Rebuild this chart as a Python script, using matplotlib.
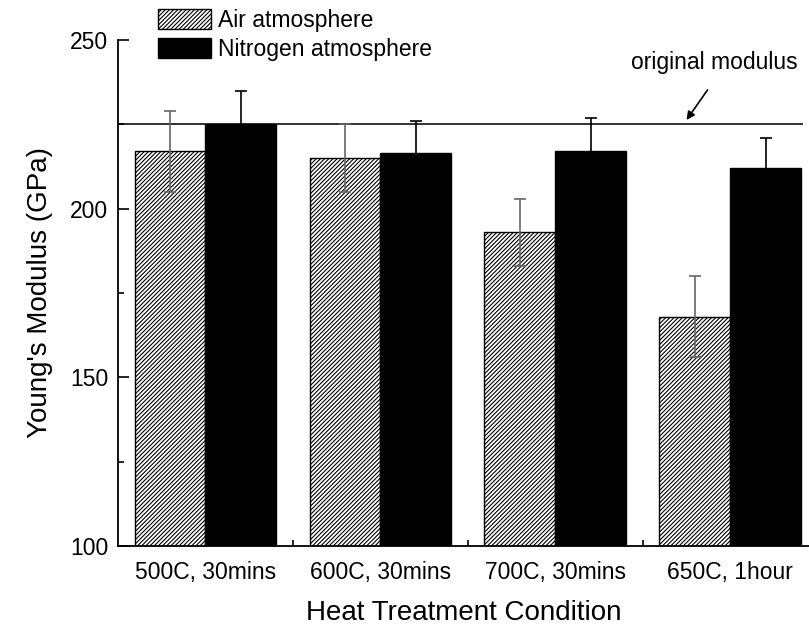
import numpy as np
import matplotlib.pyplot as plt
from matplotlib.ticker import MultipleLocator

plt.rcParams['font.family'] = ['Liberation Sans', 'DejaVu Sans']
plt.rcParams['hatch.linewidth'] = 0.8

conditions = ['500C, 30mins', '600C, 30mins', '700C, 30mins', '650C, 1hour']
air = [217, 215, 193, 168]
air_err = [12, 10, 10, 12]
nitrogen = [225, 216.5, 217, 212]
nitrogen_err = [10, 9.5, 10, 9]
original_modulus = 225

fig = plt.figure(figsize=(8.09, 6.30), dpi=100)
ax = fig.add_axes([118 / 809, 1 - 546 / 630, 1 - 118 / 809, 506 / 630])

x = np.arange(len(conditions))
w = 0.405
ax.bar(x - w / 2, air, w, color='white', edgecolor='black', hatch='////////',
       linewidth=1.0, label='Air atmosphere', zorder=2)
ax.bar(x + w / 2, nitrogen, w, color='black', edgecolor='black',
       linewidth=1.0, label='Nitrogen atmosphere', zorder=2)
ax.errorbar(x - w / 2, air, yerr=air_err, fmt='none', ecolor='#666666',
            elinewidth=1.2, capsize=4.5, capthick=1.2, zorder=3)
ax.errorbar(x + w / 2, nitrogen, yerr=nitrogen_err, fmt='none', ecolor='black',
            elinewidth=1.2, capsize=4.5, capthick=1.2, zorder=3)

# original modulus reference line
ax.plot([-0.5, 3.41], [original_modulus, original_modulus], color='#222222',
        linewidth=1.3, zorder=1)
ax.annotate('', xy=(2.75, 226.3), xytext=(2.87, 235.2),
            arrowprops=dict(arrowstyle='-|>', color='black', lw=1.2,
                            mutation_scale=12, shrinkA=0, shrinkB=0))
ax.text(2.91, 243.3, 'original modulus', fontsize=16.5, ha='center', va='center')

ax.set_xlim(-0.5, 3.45)
ax.set_ylim(100, 250)
ax.set_xticks(x)
ax.set_xticklabels(conditions)
ax.set_xticks([0.5, 1.5, 2.5], minor=True)
ax.yaxis.set_major_locator(MultipleLocator(50))
ax.yaxis.set_minor_locator(MultipleLocator(25))
ax.tick_params(axis='x', which='major', length=0, pad=11, labelsize=16.5)
ax.tick_params(axis='x', which='minor', direction='in', length=4.5, width=1.2)
ax.tick_params(axis='y', which='major', direction='in', length=8, width=1.2,
               pad=7, labelsize=16.5)
ax.tick_params(axis='y', which='minor', direction='in', length=4.5, width=1.2)

for s in ['top', 'right']:
    ax.spines[s].set_visible(False)
for s in ['left', 'bottom']:
    ax.spines[s].set_linewidth(1.3)

ax.set_xlabel('Heat Treatment Condition', fontsize=20, labelpad=11)
ax.set_ylabel("Young's Modulus (GPa)", fontsize=20, labelpad=12)

fig.legend(loc='upper left', bbox_to_anchor=(158 / 809, 1 - 9 / 630),
           frameon=False, fontsize=16.5, handlelength=2.3, handleheight=0.95,
           handletextpad=0.3, labelspacing=0.25, borderpad=0, borderaxespad=0)

fig.savefig('out.png', dpi=100)
